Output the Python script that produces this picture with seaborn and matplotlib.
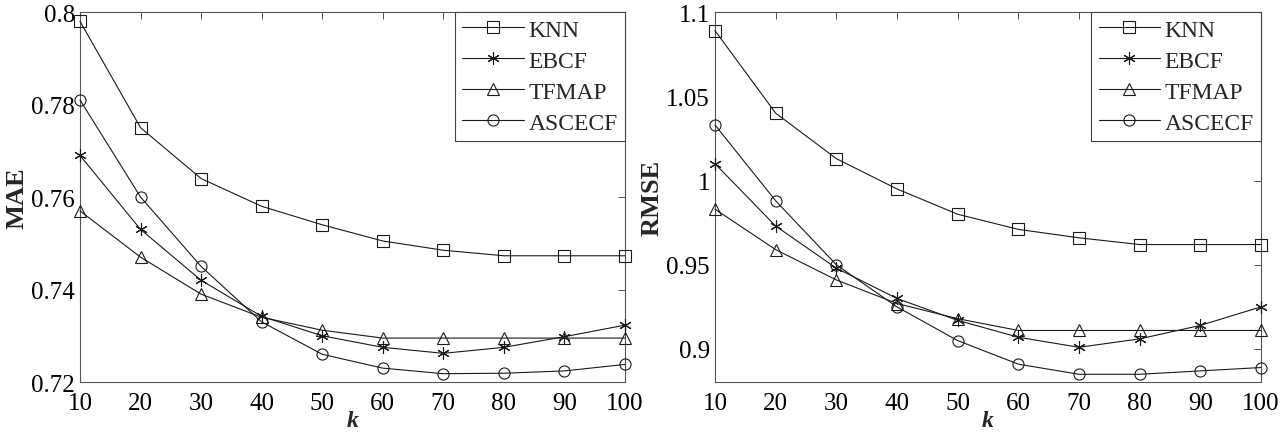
import seaborn as sns
import matplotlib.pyplot as plt
from matplotlib.ticker import FuncFormatter

k = [10, 20, 30, 40, 50, 60, 70, 80, 90, 100]
methods = ["KNN", "EBCF", "TFMAP", "ASCECF"]
markers = {"KNN": "s", "EBCF": (6, 2, 0), "TFMAP": "^", "ASCECF": "o"}

mae = {
    "KNN":    [0.798, 0.775, 0.764, 0.758, 0.754, 0.7505, 0.7485, 0.7473, 0.7473, 0.7473],
    "EBCF":   [0.769, 0.753, 0.742, 0.7342, 0.730, 0.7275, 0.7262, 0.7275, 0.7298, 0.7323],
    "TFMAP":  [0.757, 0.747, 0.739, 0.734, 0.7312, 0.7295, 0.7295, 0.7295, 0.7295, 0.7295],
    "ASCECF": [0.781, 0.760, 0.745, 0.733, 0.726, 0.7230, 0.7218, 0.7219, 0.7224, 0.7238],
}
rmse = {
    "KNN":    [1.089, 1.040, 1.013, 0.995, 0.980, 0.971, 0.966, 0.962, 0.962, 0.962],
    "EBCF":   [1.010, 0.973, 0.948, 0.930, 0.917, 0.907, 0.901, 0.906, 0.914, 0.925],
    "TFMAP":  [0.983, 0.959, 0.941, 0.927, 0.918, 0.911, 0.911, 0.911, 0.911, 0.911],
    "ASCECF": [1.033, 0.988, 0.950, 0.925, 0.905, 0.891, 0.885, 0.885, 0.887, 0.889],
}
mae_ticks = [0.72, 0.74, 0.76, 0.78, 0.8]
rmse_ticks = [0.9, 0.95, 1.0, 1.05, 1.1]

sns.set_style("white")
plt.rcParams["font.family"] = ["Liberation Serif", "DejaVu Serif"]

fig = plt.figure(figsize=(12.88, 4.35), dpi=100)
ax1 = fig.add_axes([0.0621, 0.1195, 0.4231, 0.8505])
ax2 = fig.add_axes([0.5551, 0.1195, 0.4239, 0.8505])

panels = [(ax1, mae, "MAE", (0.72, 0.8), mae_ticks), (ax2, rmse, "RMSE", (0.8804, 1.1), rmse_ticks)]
for ax, data, label, ylim, yticks in panels:
    for m in methods:
        ms = 9 if m == "EBCF" else 8
        sns.lineplot(x=k, y=data[m], ax=ax, color="#1a1a1a", linewidth=0.8, marker=markers[m],
                     markersize=ms, markerfacecolor="none", markeredgecolor="#1a1a1a",
                     markeredgewidth=0.8, label=m, clip_on=False, zorder=3)
    ax.set_xlim(10, 100)
    ax.set_ylim(*ylim)
    ax.set_xticks(k)
    ax.set_yticks(yticks)
    ax.yaxis.set_major_formatter(FuncFormatter(lambda v, p: "%g" % round(v, 4)))
    ax.tick_params(direction="in", top=True, right=True, length=5, width=0.6,
                   labelsize=18, colors="#333333", labelcolor="black")
    ax.tick_params(axis="x", pad=7)
    for s in ax.spines.values():
        s.set_color("#555555")
        s.set_linewidth(0.8)
    ax.set_ylabel(label, fontsize=19, fontweight="bold", labelpad=2)
    ax.set_xlabel("k", fontsize=17, fontweight="bold", fontstyle="italic", labelpad=-3)
    leg = ax.legend(loc="upper right", borderaxespad=0, fontsize=17, handlelength=2.6,
                    fancybox=False, framealpha=1, labelspacing=0.4, handletextpad=0.2,
                    borderpad=0.3)
    leg.set_zorder(5)
    leg.get_frame().set_edgecolor("#444444")
    leg.get_frame().set_linewidth(0.8)

plt.savefig("out.png", dpi=100)
